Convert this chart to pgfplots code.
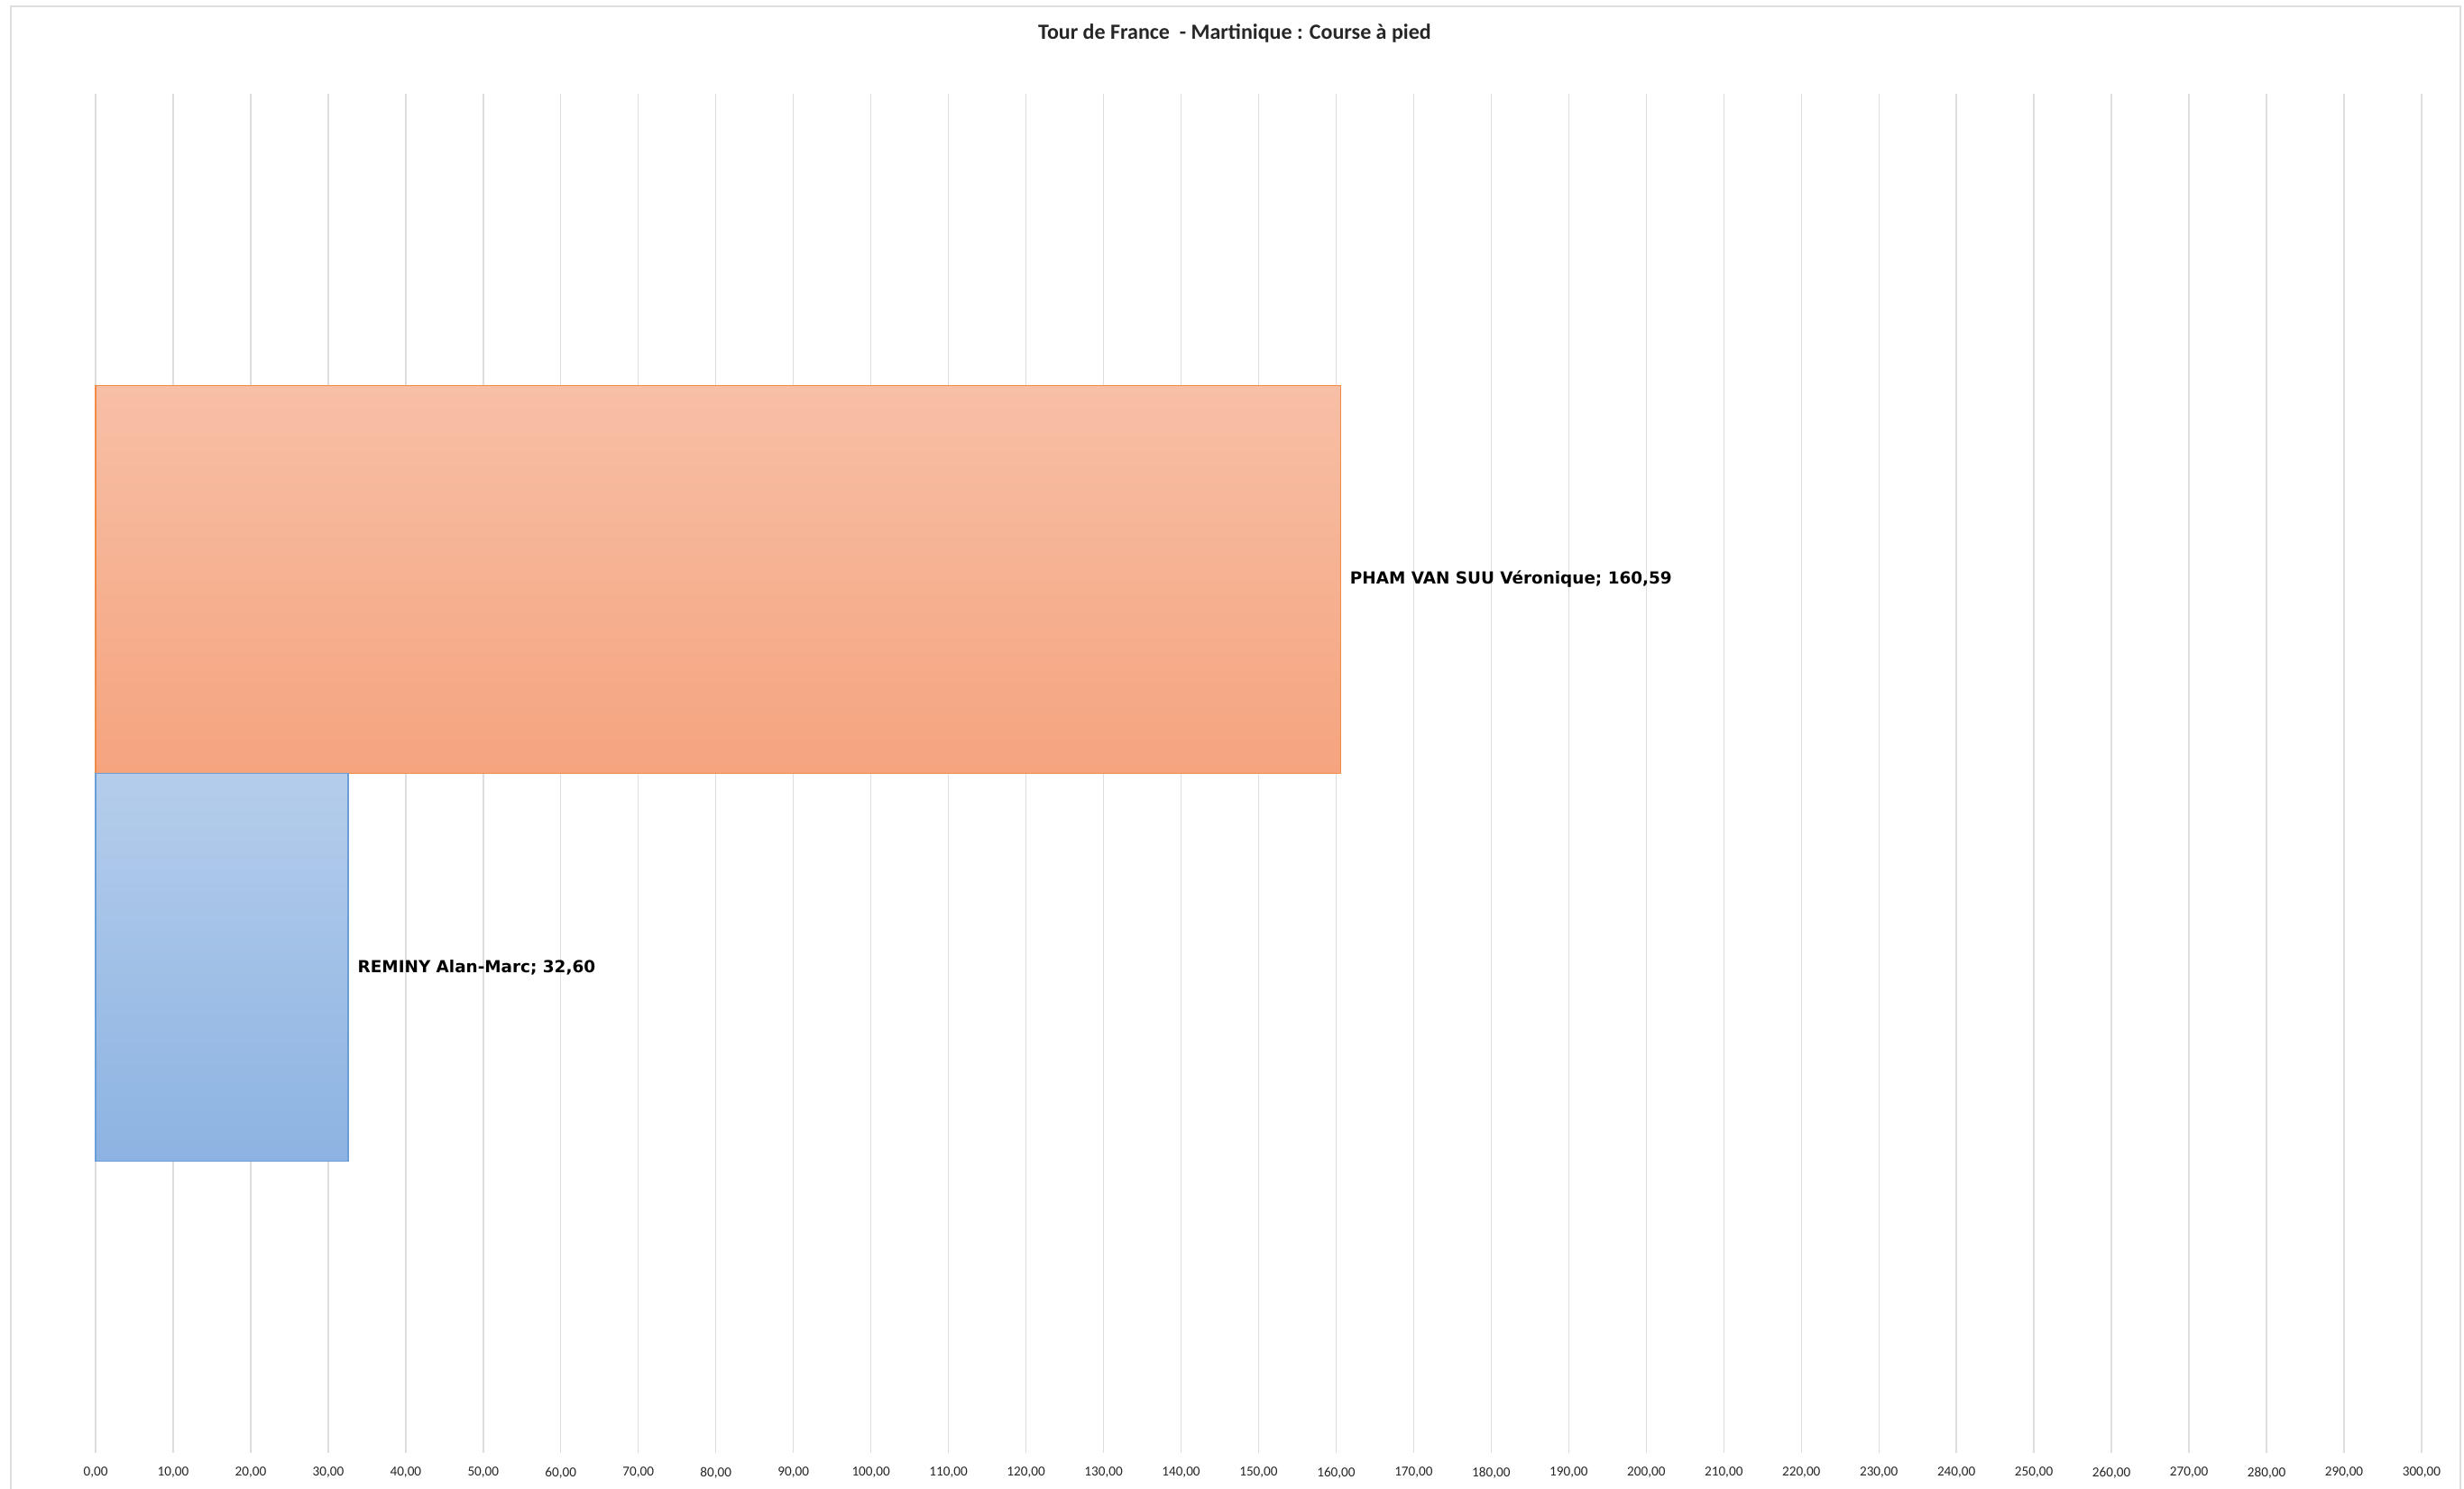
\documentclass[border=0pt]{standalone}
\usepackage{pgfplots}
\pgfplotsset{compat=1.18}
\usepackage{fontspec}
\setmainfont{Carlito}
\newfontfamily\labelfont{DejaVu Sans}
\definecolor{gridc}{HTML}{DEDEDE}
\definecolor{orTop}{HTML}{F7BFA6}
\definecolor{orBot}{HTML}{F5A47E}
\definecolor{orEdge}{HTML}{F08A45}
\definecolor{blTop}{HTML}{B5CDEB}
\definecolor{blBot}{HTML}{8CB3E2}
\definecolor{blEdge}{HTML}{6B9DD9}
\begin{document}
\begin{tikzpicture}
\path[use as bounding box, fill=white] (-53pt,-19.5pt) rectangle (1313pt,805.5pt);
\draw[gridc, line width=1pt] (-47pt,-30pt) -- (-47pt,802pt) -- (1311pt,802pt) -- (1311pt,-30pt);
\begin{axis}[
  at={(0pt,0pt)}, anchor=south west,
  scale only axis,
  width=1289.5pt, height=753.5pt,
  xmin=0, xmax=300, ymin=-1.7523, ymax=1.7523,
  enlargelimits=false,
  xbar, bar width=1, bar shift=0pt,
  xtick={0,10,20,30,40,50,60,70,80,90,100,110,120,130,140,150,160,170,180,190,200,210,220,230,240,250,260,270,280,290,300},
  xticklabels={{0,00},{10,00},{20,00},{30,00},{40,00},{50,00},{60,00},{70,00},{80,00},{90,00},{100,00},{110,00},{120,00},{130,00},{140,00},{150,00},{160,00},{170,00},{180,00},{190,00},{200,00},{210,00},{220,00},{230,00},{240,00},{250,00},{260,00},{270,00},{280,00},{290,00},{300,00}},
  ytick=\empty,
  xmajorgrids,
  major grid style={draw=gridc, line width=0.7pt},
  axis line style={draw=none},
  tick style={draw=none},
  xticklabel style={font=\fontsize{7.6}{9}\selectfont, text=black!85, yshift=-4.5pt},
  title={\fontsize{12}{14}\selectfont\bfseries Tour de France\ \ - Martinique : Course à pied},
  title style={at={(0.5,1)}, anchor=center, yshift=27.5pt, xshift=-13.25pt, text=black!85},
  clip=false,
  point meta=x,
  every node near coord/.style={anchor=west, xshift=1.5pt, font=\labelfont\bfseries\fontsize{9.2}{11}\selectfont, text=black},
]
\addplot[draw=orEdge, line width=0.8pt, top color=orTop, bottom color=orBot,
  nodes near coords={PHAM VAN SUU Véronique; 160,59}] coordinates {(160.59,0.5)};
\addplot[draw=blEdge, line width=0.8pt, top color=blTop, bottom color=blBot,
  nodes near coords={REMINY Alan-Marc; 32,60}] coordinates {(32.60,-0.5)};
\end{axis}
\end{tikzpicture}
\end{document}
